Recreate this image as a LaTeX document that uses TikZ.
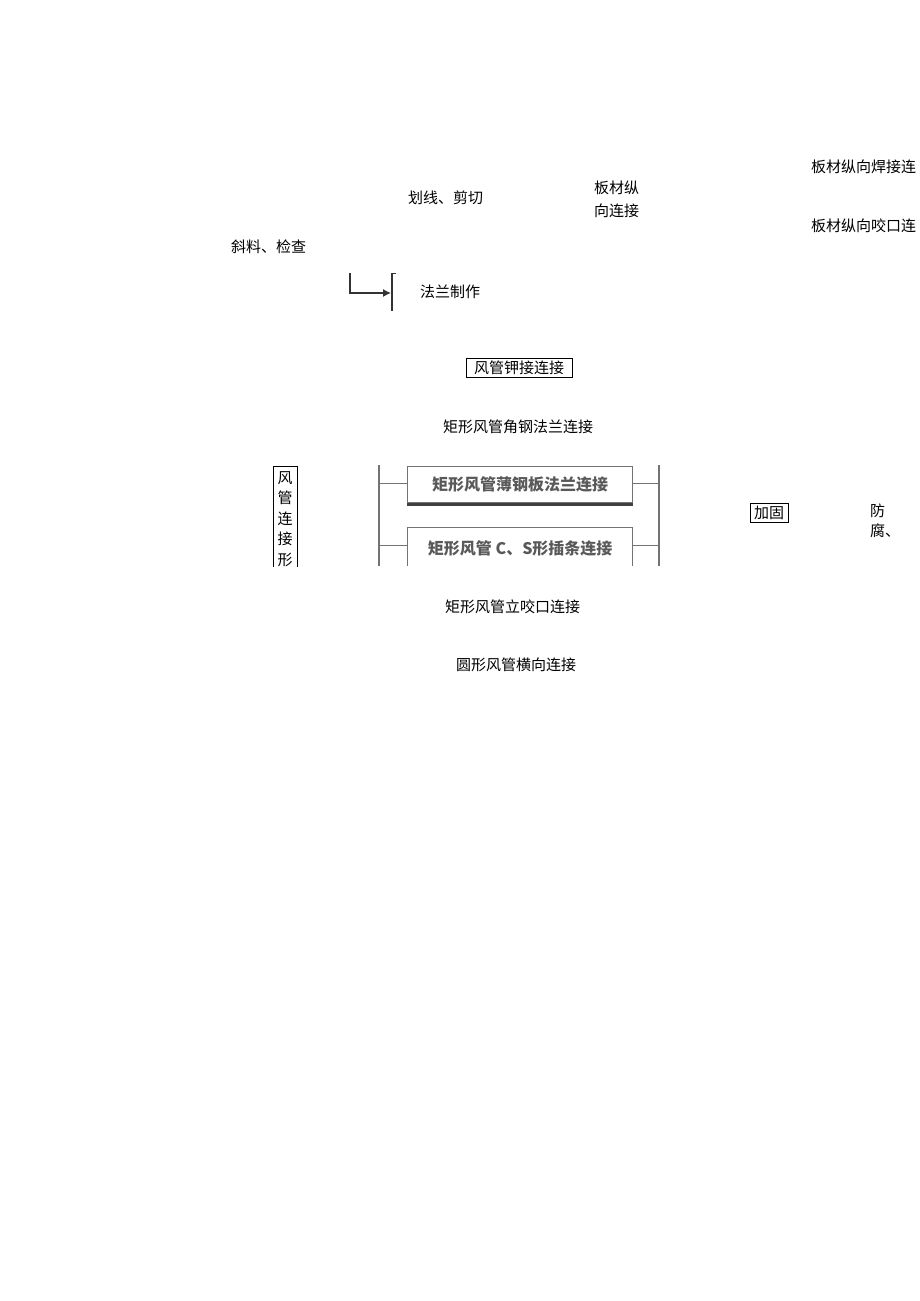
\documentclass[tikz,border=0pt]{standalone}
\usepackage{fontspec}
\newfontfamily\cjk{Noto Sans CJK SC}
\usetikzlibrary{positioning,arrows.meta}

\tikzset{
  lbl/.style={inner sep=0pt, anchor=west, font=\cjk\fontsize{15}{20}\selectfont},
  tagbox/.style={lbl, draw, thin, inner xsep=4pt, inner ysep=2pt, minimum height=19pt},
  panelline/.style={draw=black!55, line width=1.4pt},
  panelbox/.style={panelline, minimum width=225pt, minimum height=36pt, inner sep=0pt,
    text=black!65, font=\cjk\bfseries\fontsize{16}{18}\selectfont},
}

\begin{document}
\begin{tikzpicture}[x=1pt, y=-1pt]
\useasboundingbox (0,0) rectangle (920,1301);

% top row
\node [lbl] (weld) at (811,167) {板材纵向焊接连};
\node [lbl] (cut) at (408,198) {划线、剪切};
\node [lbl, align=left, font=\cjk\fontsize{15}{23}\selectfont] (plate) at (594,199.5) {板材纵\\向连接};
\node [lbl] (seam) at (811,226) {板材纵向咬口连};
\node [lbl] (check) at (231,247) {斜料、检查};

% flange hook
\coordinate (hookTop) at (350,273);
\coordinate (hookEnd) at (391,293);
\coordinate (barTop) at (392,273);
\coordinate (barBot) at (392,311);
\draw [-{Latex[length=8pt,width=8pt]}, line width=1.2pt, black!80] (hookTop) |- (hookEnd);
\draw [line width=1.8pt, black!80] (barTop) -- (barBot);
\draw [thick, black!80] (barTop) -- ++(4,0);
\node [lbl] (flange) at (420,292) {法兰制作};

\node [tagbox, minimum width=106pt] (rivet) at (466,367.5) {风管钾接连接};
\node [lbl] (angle) at (443,427) {矩形风管角钢法兰连接};

% vertical label, open at the bottom
\draw [thin] (273,567) |- (297,466) -- (297,567);
\node [lbl, anchor=north, align=center, font=\cjk\fontsize{15}{20.5}\selectfont] (form) at (285,471) {风\\管\\连\\接\\形};

% grey panel
\begin{scope}
\clip (376,463) rectangle (662,565);
\coordinate (railLT) at (379,465);
\coordinate (railLB) at (379,570);
\coordinate (railRT) at (659,465);
\coordinate (railRB) at (659,570);
\draw [panelline] (railLT) -- (railLB);
\draw [panelline] (railRT) -- (railRB);
\node [panelbox, anchor=north west] (thin) at (407,466) {矩形风管薄钢板法兰连接};
\node [panelbox, anchor=north west, minimum height=42pt] (insert) at (407,527) {矩形风管 C、S形插条连接};
\draw [draw=black!75, line width=2.2pt] ([yshift=-1pt]thin.south west) -- ([yshift=-1pt]thin.south east);
\draw [panelline] ([yshift=1pt]thin.west) -- ([yshift=1pt]thin.west -| railLT);
\draw [panelline] ([yshift=1pt]thin.east) -- ([yshift=1pt]thin.east -| railRT);
\draw [panelline] ([yshift=3pt]insert.west) -- ([yshift=3pt]insert.west -| railLT);
\draw [panelline] ([yshift=3pt]insert.east) -- ([yshift=3pt]insert.east -| railRT);
\end{scope}

\node [tagbox] (brace) at (750,512.5) {加固};
\node [lbl, align=left] (rust) at (870,521) {防\\腐、};

\node [lbl] (stand) at (445,607) {矩形风管立咬口连接};
\node [lbl] (round) at (456,665) {圆形风管横向连接};
\end{tikzpicture}
\end{document}
